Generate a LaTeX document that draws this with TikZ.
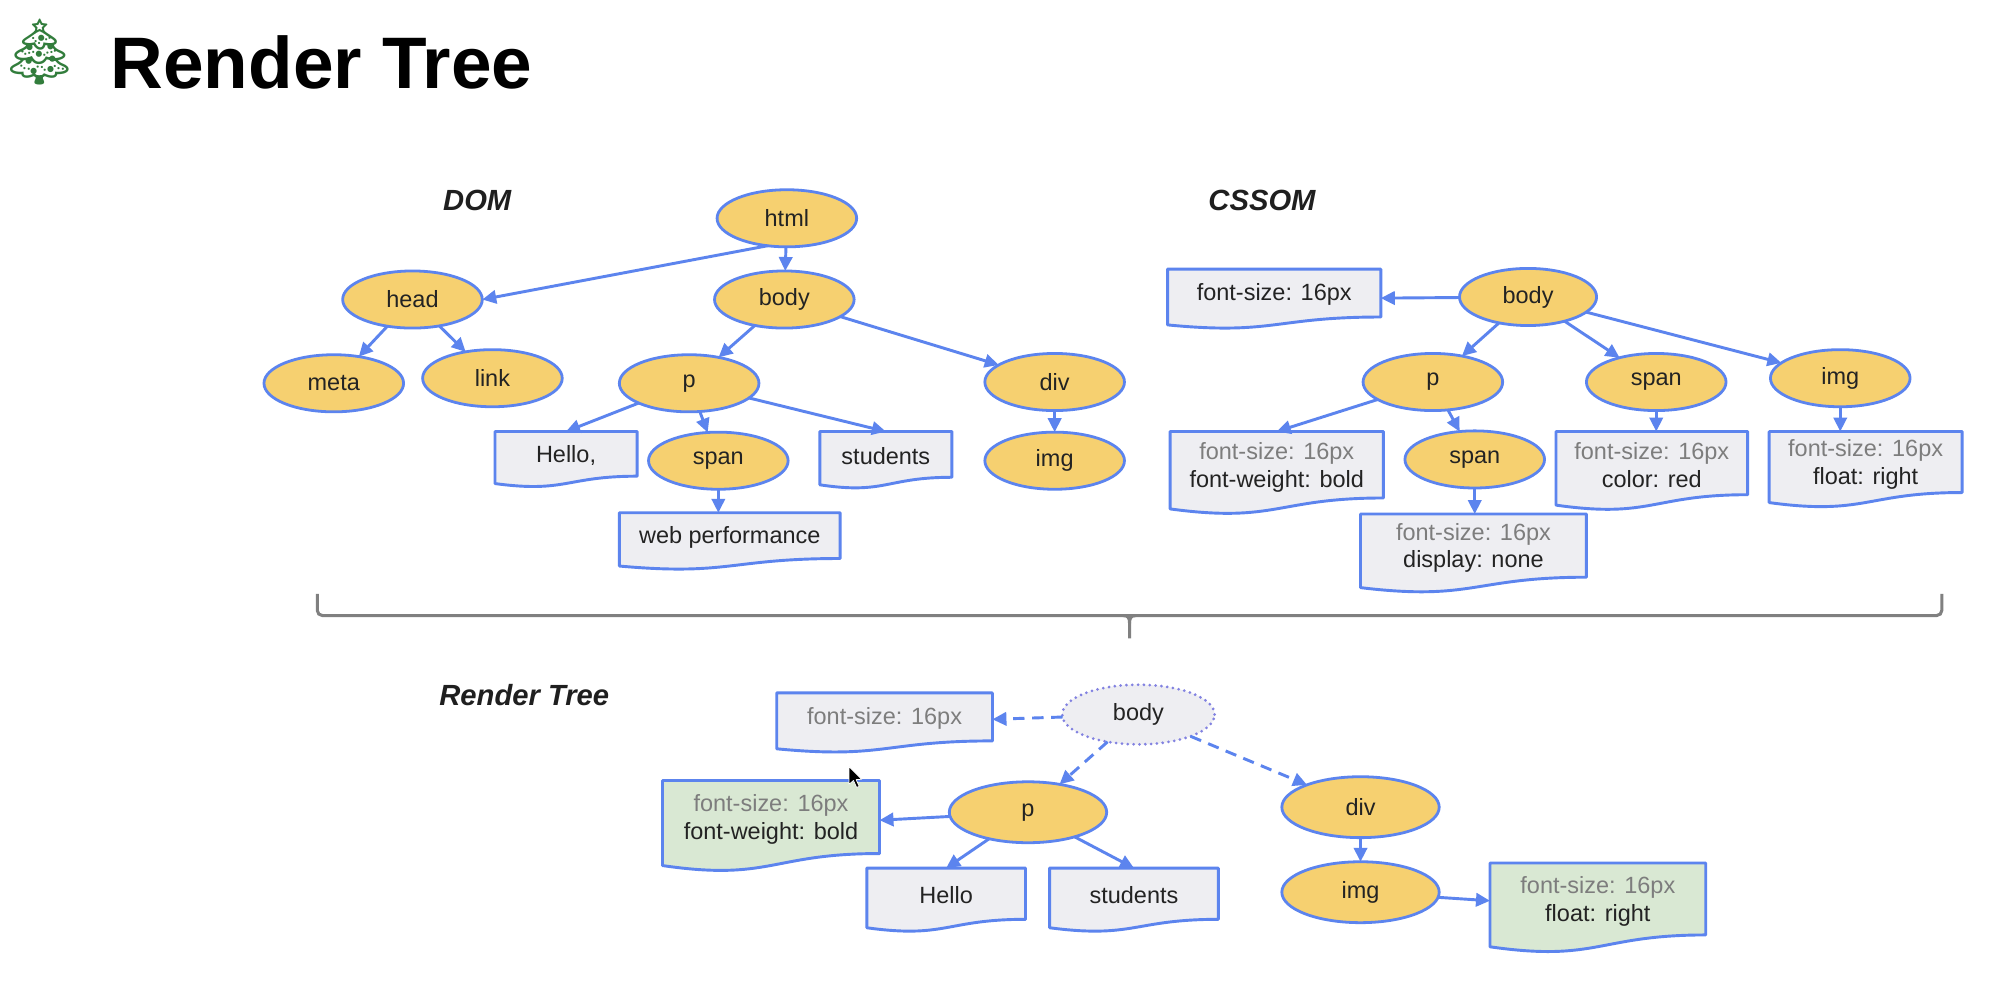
\documentclass[tikz,border=0pt]{standalone}
\usepackage{fontspec}
\setmainfont{Liberation Sans}
\newfontfamily\emojifont{Noto Emoji}
\usetikzlibrary{shapes.geometric,arrows.meta,calc}
\definecolor{lineblue}{RGB}{92,132,238}
\definecolor{dotblue}{RGB}{130,130,225}
\definecolor{ellfill}{RGB}{246,208,112}
\definecolor{boxfill}{RGB}{238,238,242}
\definecolor{greenfill}{RGB}{217,232,211}
\definecolor{graytext}{RGB}{125,125,125}
\definecolor{darktext}{RGB}{35,35,35}
\definecolor{bracegray}{RGB}{128,128,128}
\definecolor{treegreen}{RGB}{50,125,60}
\newcommand\nodefont{\fontsize{18.5}{22}\selectfont}
\newcommand\gl[1]{{\color{graytext}#1}}
% name, x, ytop, width, y of left bottom, fill, text
\newcommand\docbox[7]{%
  \pgfmathsetmacro\dbH{(#5-#3)/0.934}%
  \node[docframe, minimum width=#4pt, minimum height=\dbH pt, anchor=north] (#1) at (#2,#3) {};
  \draw[docline, fill=#6] (#1.north west) -- (#1.north east)
    -- ($(#1.north east)!0.802!(#1.south east)$)
    .. controls ($(#1.north)!0.802!(#1.south)$) and ($(#1.north)!1.107!(#1.south)$)
    .. ($(#1.north west)!0.934!(#1.south west)$) -- cycle;
  \node[doctext] at ($(#1.north)!0.43!(#1.south)$) {#7};
}
\begin{document}
\begin{tikzpicture}[x=1pt,y=-1pt,
  ell/.style={ellipse, draw=lineblue, line width=2.2pt, fill=ellfill,
    minimum width=110pt, minimum height=45pt, inner sep=0pt, outer sep=0pt,
    font=\nodefont, text=darktext},
  bigell/.style={ell, minimum width=124pt, minimum height=48pt},
  arr/.style={draw=lineblue, line width=2.3pt, -{Triangle[length=11pt,width=10.5pt]}},
  darr/.style={arr, dash pattern=on 9pt off 6pt},
  docframe/.style={rectangle, draw=none, inner sep=0pt, outer sep=0pt},
  docline/.style={draw=lineblue, line width=2.3pt, line join=round},
  doctext/.style={font=\nodefont, text=darktext, align=center, inner sep=0pt},
  seclabel/.style={font=\fontsize{23}{27}\selectfont\bfseries\itshape,
    anchor=base west, inner sep=0pt, text=black!88},
  bracestyle/.style={draw=bracegray, line width=2.4pt}
]
\useasboundingbox (0,0) rectangle (1568,774);
\fill[white] (0,0) rectangle (1568,774);

% ---------- title ----------
\node[inner sep=0pt, text=treegreen, font=\fontsize{50}{50}\selectfont\emojifont] (tree) at (31,41) {🎄};
\node[anchor=base west, inner sep=0pt, font=\fontsize{57.5}{60}\selectfont\bfseries] (title) at (87,69.5) {Render Tree};

% ---------- section labels ----------
\node[seclabel] (domlabel) at (349,166) {DOM};
\node[seclabel] (cssomlabel) at (952,166) {CSSOM};
\node[seclabel] (rtlabel) at (346,556) {Render Tree};

% ---------- DOM ----------
\node[ell] (html) at (620,172) {html};
\node[ell] (head) at (325,236) {head};
\node[ell] (dbody) at (618,236) {body};
\node[ell] (meta) at (263,302) {meta};
\node[ell] (link) at (388,298) {link};
\node[ell] (dp) at (543,302) {p};
\node[ell] (ddiv) at (831,301) {div};
\node[ell] (dspan) at (566,363) {span};
\node[ell] (dimg) at (831,363) {img};
\docbox{dhello}{446}{340}{112}{381}{boxfill}{Hello,}
\docbox{dstud}{698}{340}{104}{382}{boxfill}{students}
\docbox{dweb}{575}{404}{174}{446}{boxfill}{web performance}

\draw[arr] (html.235) -- (head.east);
\draw[arr] (html) -- (dbody);
\draw[arr] (head) -- (meta);
\draw[arr] (head) -- (link);
\draw[arr] (dbody) -- (dp);
\draw[arr] (dbody) -- (ddiv);
\draw[arr] (dp) -- (dhello.north);
\draw[arr] (dp) -- (dspan);
\draw[arr] (dp) -- (dstud.north);
\draw[arr] (ddiv) -- (dimg);
\draw[arr] (dspan) -- (dspan |- dweb.north);

% ---------- CSSOM ----------
\node[ell, minimum width=108pt] (cbody) at (1204,234) {body};
\node[ell] (cp) at (1129,301) {p};
\node[ell] (cspan) at (1305,301) {span};
\node[ell] (cimg) at (1450,298) {img};
\node[ell] (cspan2) at (1162,362) {span};
\docbox{cfs}{1004}{212}{168}{256}{boxfill}{font-size: 16px}
\docbox{cbox1}{1006}{340}{168}{401}{boxfill}{\gl{font-size: 16px}\\font-weight: bold}
\docbox{cdisp}{1161}{405}{178}{463}{boxfill}{\gl{font-size: 16px}\\display: none}
\docbox{ccolor}{1301.5}{340}{151}{398}{boxfill}{\gl{font-size: 16px}\\color: red}
\docbox{cfloat}{1470}{340}{152}{396}{boxfill}{\gl{font-size: 16px}\\float: right}

\draw[arr] (cbody) -- (cfs);
\draw[arr] (cbody) -- (cp);
\draw[arr] (cbody) -- (cspan);
\draw[arr] (cbody) -- (cimg);
\draw[arr] (cp) -- (cbox1.north);
\draw[arr] (cp) -- (cspan2);
\draw[arr] (cspan2) -- (cspan2 |- cdisp.north);
\draw[arr] (cspan) -- (cspan |- ccolor.north);
\draw[arr] (cimg) -- (cimg |- cfloat.north);

% ---------- brace ----------
\draw[bracestyle, rounded corners=4pt] (250,468) -- (250,485) -- (1530,485) -- (1530,468);
\draw[bracestyle] (885,485) .. controls (889,485) and (890,487) .. (890,491) -- (890,503);
\draw[bracestyle] (895,485) .. controls (891,485) and (890,487) .. (890,491);

% ---------- Render tree ----------
\node[ell, fill=boxfill, draw=dotblue, line width=2.4pt, line cap=round,
  dash pattern=on 0pt off 4.6pt, minimum width=120pt, minimum height=47pt] (rbody) at (897,563) {body};
\node[bigell] (rp) at (810,640) {p};
\node[bigell] (rdiv) at (1072,636) {div};
\node[bigell] (rimg) at (1072,703) {img};
\docbox{rfs}{697}{546}{170}{590}{boxfill}{\gl{font-size: 16px}}
\docbox{rbox1}{607.5}{615}{171}{682}{greenfill}{\gl{font-size: 16px}\\font-weight: bold}
\docbox{rhello}{745.5}{684}{125}{731}{boxfill}{Hello}
\docbox{rstud}{893.5}{684}{133}{731}{boxfill}{students}
\docbox{rfloat}{1259}{680}{170}{746}{greenfill}{\gl{font-size: 16px}\\float: right}

\draw[darr] (rbody) -- (rfs);
\draw[darr] (rbody) -- (rp);
\draw[darr] (rbody) -- (rdiv);
\draw[arr] (rp) -- (rbox1);
\draw[arr] (rp) -- (rhello.north);
\draw[arr] (rp) -- (rstud.north);
\draw[arr] (rdiv) -- (rimg);
\draw[arr] (rimg) -- (rfloat);

% ---------- mouse cursor ----------
\filldraw[fill=black, draw=white, line width=0.6pt, line join=round]
  (669,604) -- (669,618) -- (672.5,615) -- (675,620.5) -- (677,619.6) -- (674.6,614.3) -- (679,614) -- cycle;
\end{tikzpicture}
\end{document}
